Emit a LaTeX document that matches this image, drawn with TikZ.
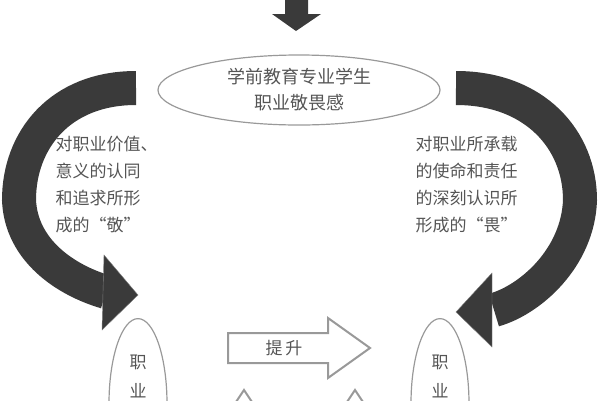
\documentclass[tikz,border=0pt]{standalone}
\usepackage{fontspec}
\setmainfont{Noto Sans CJK SC}
\usetikzlibrary{shapes.geometric}
\definecolor{txtgray}{HTML}{555555}
\definecolor{bandgray}{HTML}{3A3A3A}
\tikzset{
  oval/.style={ellipse, draw=gray!80, line width=1.2pt, inner sep=0pt},
  sidetext/.style={align=left, text=txtgray, font=\fontsize{17}{27}\selectfont},
  band/.style={line width=34pt, draw=bandgray},
  head/.style={fill=bandgray, draw=gray},
}
\begin{document}
\begin{tikzpicture}[x=1pt, y=-1pt]
    \useasboundingbox (0,0) rectangle (600,400);
    \clip (0,0) rectangle (600,400);

    % Nodes
    \node[oval, minimum width=282pt, minimum height=70pt, align=center, text=txtgray,
          font=\fontsize{18}{26}\selectfont] at (299,90) (awe) {学前教育专业学生\\职业敬畏感};
    \node[sidetext, anchor=north west] at (52,133) (respect) {对职业价值、\\意义的认同\\和追求所形\\成的“敬”};
    \node[sidetext, anchor=north west] at (412,133) (fear) {对职业所承载\\的使命和责任\\的深刻认识所\\形成的“畏”};
    \node[oval, minimum width=58pt, minimum height=170pt, anchor=north] at (138,318) (left) {};
    \node[oval, minimum width=58pt, minimum height=170pt, anchor=north] at (440,318) (right) {};
    \node[text=txtgray, font=\fontsize{17}{20}\selectfont] at (138,362) (l1) {职};
    \node[text=txtgray, font=\fontsize{17}{20}\selectfont] at (138,391) (l2) {业};
    \node[text=txtgray, font=\fontsize{17}{20}\selectfont] at (440,362) (r1) {职};
    \node[text=txtgray, font=\fontsize{17}{20}\selectfont] at (440,391) (r2) {业};

    % top arrow
    \fill[bandgray] (285,0) -- (308,0) -- (308,14) -- (321,14) -- (296,31) -- (272,14) -- (285,14) -- cycle;

    % curved arrows
    \draw[band] (136,88) .. controls (60,88) and (19,140) .. (19,200)
                         .. controls (21,250) and (65,280) .. (106,292);
    \draw[head] (104,255) -- (138,295) -- (102,330) -- cycle;
    \draw[band] (456,88) .. controls (535,88) and (580,140) .. (580,200)
                         .. controls (578,258) and (530,300) .. (494,310);
    \draw[head] (492,273) -- (456,312) -- (492,347) -- cycle;

    % hollow arrow
    \draw[gray!80, line width=2pt, fill=white] (228,333) -- (328,333) -- (328,318) -- (370,348)
        -- (328,378) -- (328,363) -- (228,363) -- cycle;
    \node[text=txtgray, font=\fontsize{17}{20}\selectfont] at (284,348) (lift) {提\,升};

    % lower arrows (cut off)
    \draw[gray!80, line width=2pt] (232,408) -- (244,390) -- (256,408);
    \draw[gray!80, line width=2pt] (343,408) -- (355,390) -- (367,408);
\end{tikzpicture}
\end{document}
